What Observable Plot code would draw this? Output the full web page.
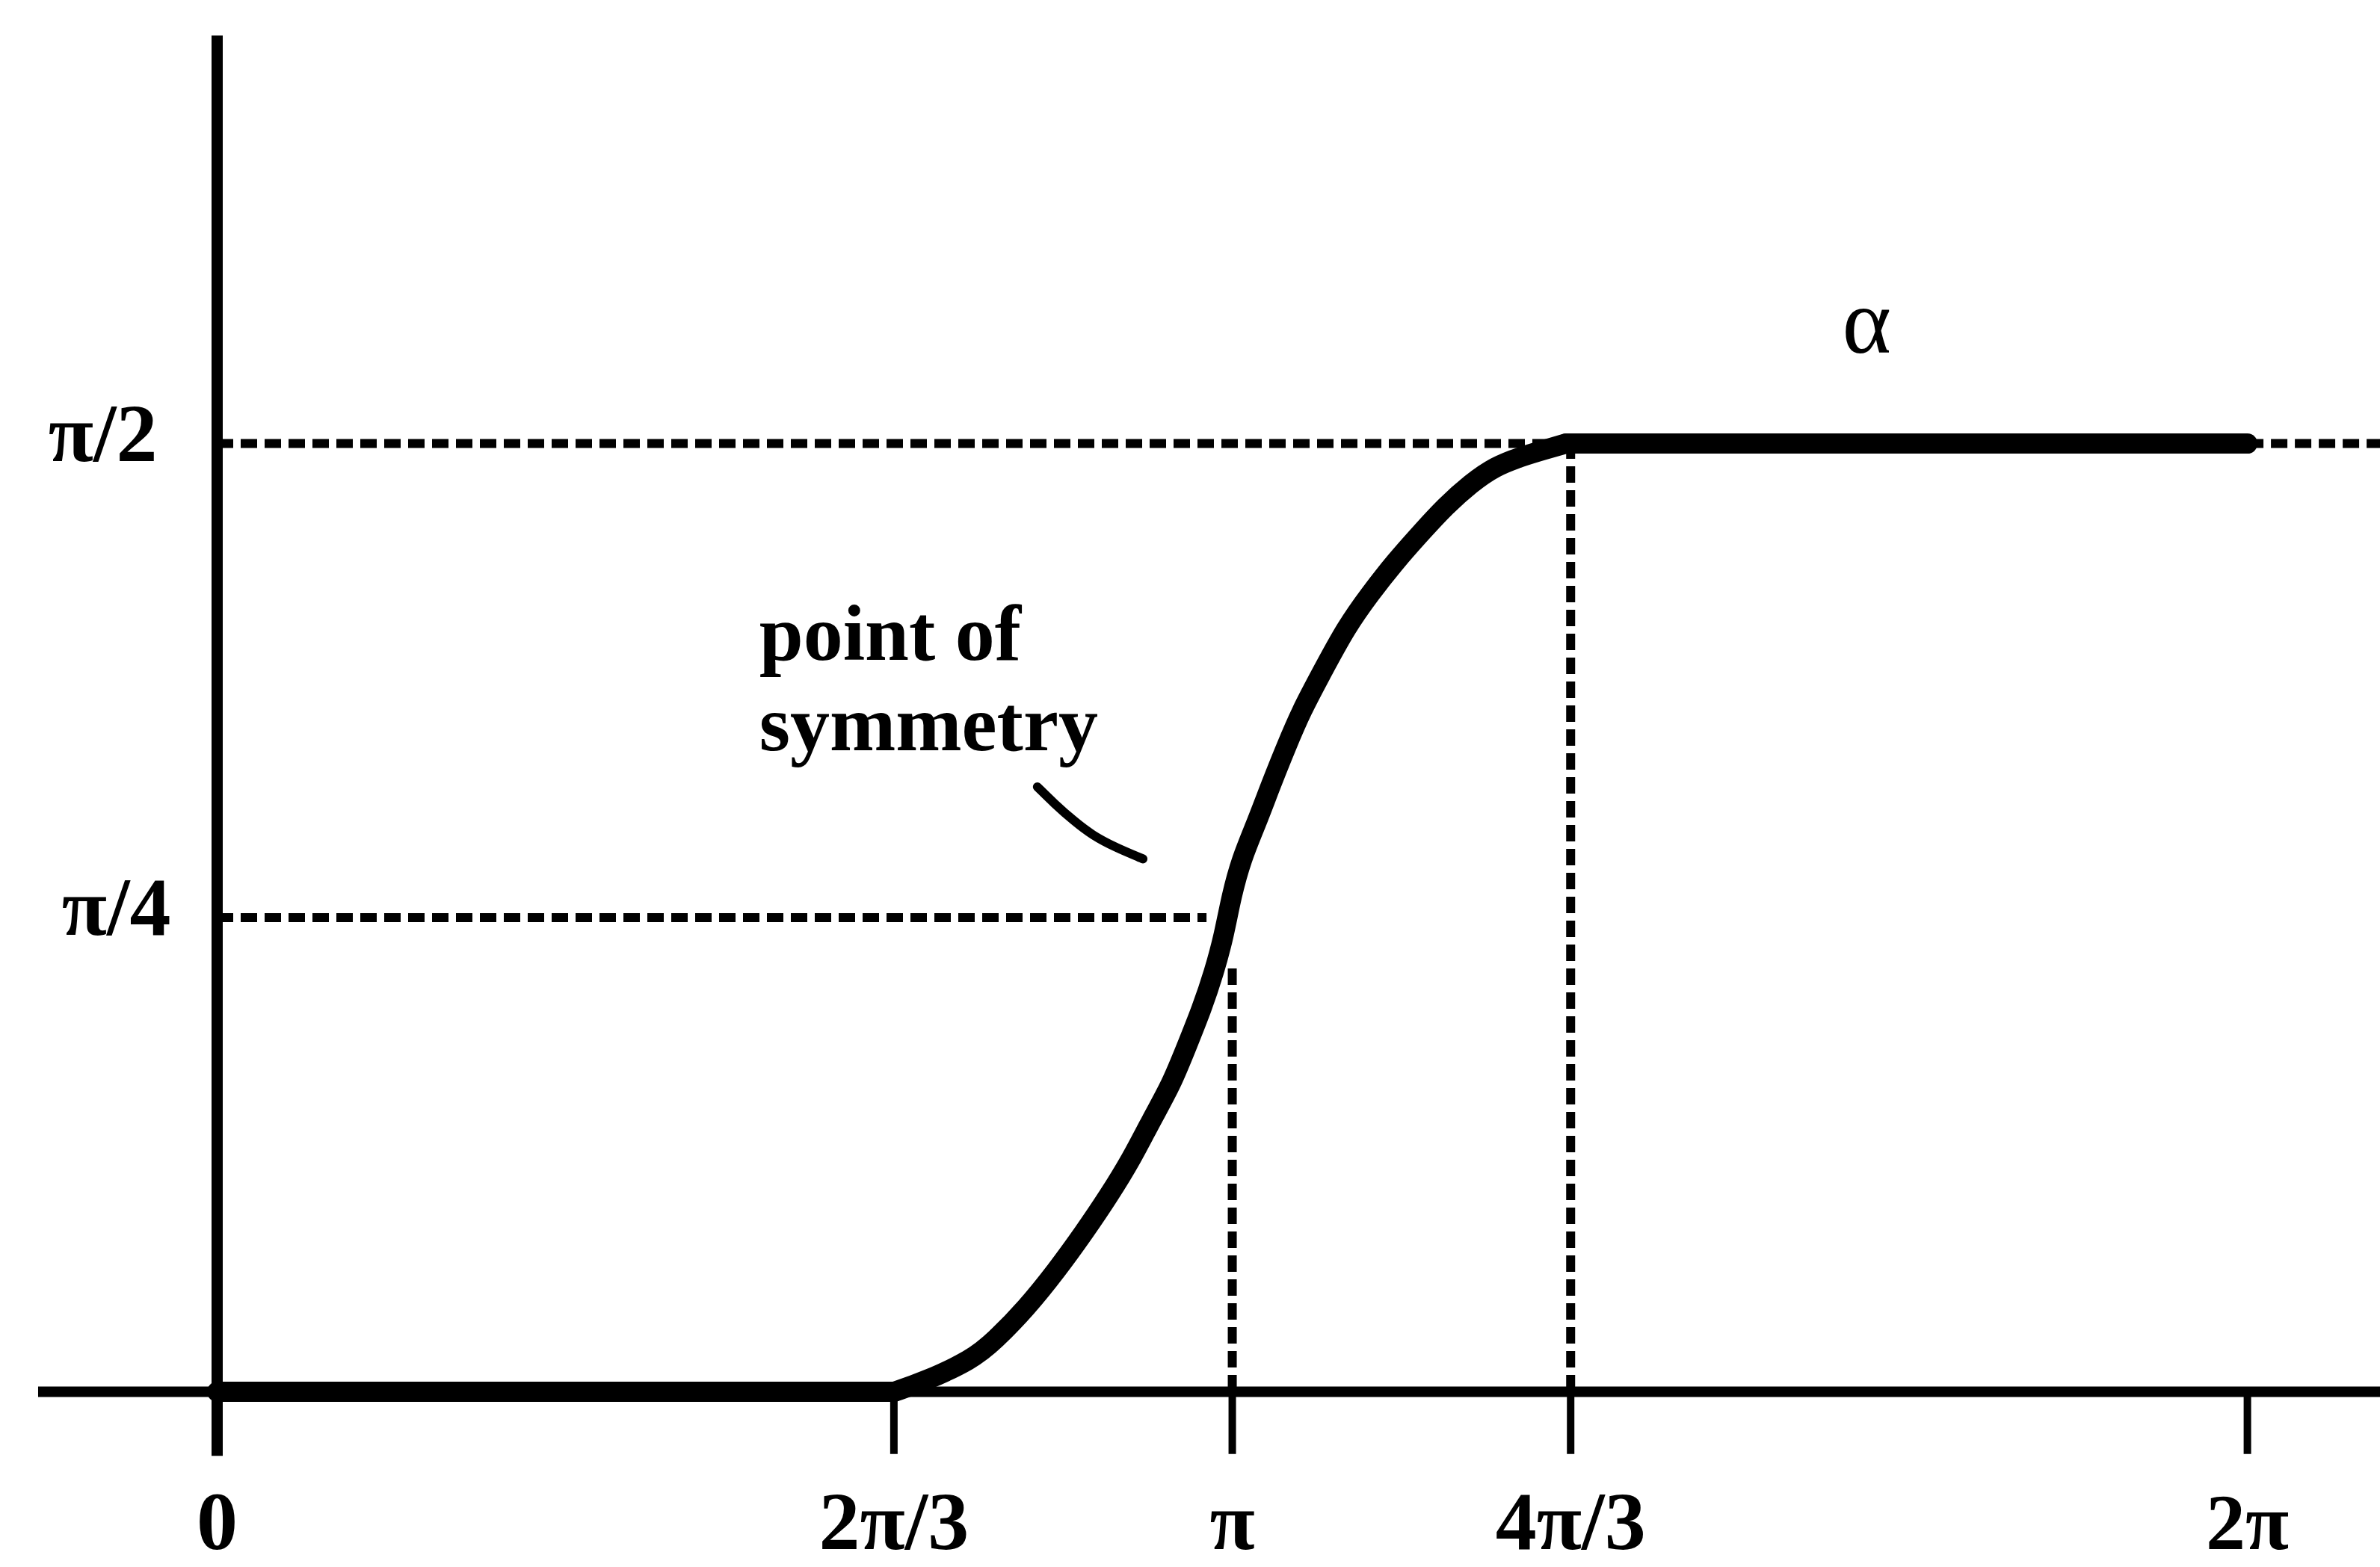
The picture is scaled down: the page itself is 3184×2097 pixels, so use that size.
<!DOCTYPE html>
<html>
<head>
<meta charset="utf-8">
<script src="https://cdn.jsdelivr.net/npm/d3@7"></script>
<script src="https://cdn.jsdelivr.net/npm/@observablehq/plot@0.6"></script>
<style>
html, body { margin: 0; padding: 0; background: #fff; overflow: hidden; }
#chart svg { display: block; }
</style>
</head>
<body>
<div id="chart"></div>
<script>
// All x and y values are in multiples of π
const xTicks = [0, 2/3, 1, 4/3, 2];
const xTickLabels = ["0", "2π/3", "π", "4π/3", "2π"];
const yTicks = [0.25, 0.5];
const yTickLabels = ["π/4", "π/2"];

// the thick curve α(θ)
const curveX = [0, 0.667, 0.695, 0.744, 0.766, 0.797, 0.827, 0.854, 0.878, 0.901, 0.920, 0.940, 0.955, 0.970, 0.982, 0.992, 0.999, 1.009, 1.024, 1.038, 1.053, 1.068, 1.088, 1.112, 1.136, 1.161, 1.186, 1.210, 1.235, 1.259, 1.284, 1.309, 1.329, 2.0];
const curveY = [0, 0, 0.005, 0.017, 0.027, 0.044, 0.064, 0.084, 0.103, 0.123, 0.143, 0.162, 0.182, 0.202, 0.221, 0.241, 0.261, 0.281, 0.300, 0.320, 0.340, 0.359, 0.379, 0.403, 0.421, 0.438, 0.453, 0.467, 0.479, 0.488, 0.493, 0.497, 0.5, 0.5];
const riseStart = 0.667, riseEnd = 1.329;

// dotted guide lines
const guideHy = [0.5, 0.25, 0.5];
const guideHx1 = [0, 0, 2];
const guideHx2 = [4/3, 0.975, 2.131];
const guideVx = [1, 4/3];
const guideVy1 = [0, 0];
const guideVy2 = [0.226, 0.5];

// axis line extents
const xAxisExtent = [-0.176, 2.131];
const yAxisExtent = [-0.034, 0.715];
const tickBottom = -0.033;

// annotation pointer
const pointerX = [0.808, 0.825, 0.844, 0.862, 0.885, 0.912];
const pointerY = [0.319, 0.310, 0.301, 0.2935, 0.287, 0.281];

const notes = [{x: 0.534, y: 0.4196, text: "point of\nsymmetry"}];
const seriesLabel = [{x: 1.625, y: 0.5635, text: "α"}];

const curve = curveX.map((x, i) => ({x, y: curveY[i]}));
const flatLow = curve.filter(d => d.x <= riseStart);
const rise = curve.filter(d => d.x >= riseStart && d.x <= riseEnd);
const flatHigh = curve.filter(d => d.x >= riseEnd);
const guidesH = guideHy.map((y, i) => ({y, x1: guideHx1[i], x2: guideHx2[i]}));
const guidesV = guideVx.map((x, i) => ({x, y1: guideVy1[i], y2: guideVy2[i]}));
const pointer = pointerX.map((x, i) => ({x, y: pointerY[i]}));
const fmtX = d => xTickLabels[xTicks.indexOf(d)];
const fmtY = d => yTickLabels[yTicks.indexOf(d)];

const dash = "22,10";
const curveStyle = {x: "x", y: "y", stroke: "#000", strokeWidth: 27, strokeLinecap: "round", strokeLinejoin: "round"};

const chart = Plot.plot({
  width: 3184,
  height: 2097,
  marginLeft: 290,
  marginRight: 0,
  marginTop: 0,
  marginBottom: 235,
  style: {fontFamily: "'Liberation Serif', 'Times New Roman', serif", background: "#fff", color: "#000"},
  x: {domain: [0, 2.131], axis: null},
  y: {domain: [0, 0.7337], axis: null},
  marks: [
    // dotted guides
    Plot.ruleY(guidesH, {y: "y", x1: "x1", x2: "x2", stroke: "#000", strokeWidth: 12, strokeDasharray: dash}),
    Plot.ruleX(guidesV, {x: "x", y1: "y1", y2: "y2", stroke: "#000", strokeWidth: 12, strokeDasharray: dash}),
    // axis lines
    Plot.ruleY([0], {x1: xAxisExtent[0], x2: xAxisExtent[1], stroke: "#000", strokeWidth: 14}),
    Plot.ruleX([0], {y1: yAxisExtent[0], y2: yAxisExtent[1], stroke: "#000", strokeWidth: 15}),
    // tick marks below the x axis
    Plot.ruleX(xTicks.slice(1), {y1: 0, y2: tickBottom, stroke: "#000", strokeWidth: 10}),
    // tick labels
    Plot.axisX(xTicks.slice(0, 4), {anchor: "bottom", tickSize: 0, tickPadding: 132, tickFormat: fmtX, fontSize: 110, fontWeight: "bold"}),
    Plot.axisX(xTicks.slice(4), {anchor: "bottom", tickSize: 0, tickPadding: 135, tickFormat: fmtX, fontSize: 106, fontWeight: "bold"}),
    Plot.axisY([0.5], {anchor: "left", tickSize: 0, tickPadding: 80, tickFormat: fmtY, fontSize: 110, fontWeight: "bold", dy: -12}),
    Plot.axisY([0.25], {anchor: "left", tickSize: 0, tickPadding: 62, tickFormat: fmtY, fontSize: 110, fontWeight: "bold", dy: -12}),
    // the curve
    Plot.line(flatLow, {...curveStyle, curve: "linear"}),
    Plot.line(rise, {...curveStyle, curve: "basis"}),
    Plot.line(flatHigh, {...curveStyle, curve: "linear"}),
    // pointer and annotation
    Plot.line(pointer, {x: "x", y: "y", curve: "basis", stroke: "#000", strokeWidth: 12, strokeLinecap: "round"}),
    Plot.text(notes, {x: "x", y: "y", text: "text", textAnchor: "start", lineAnchor: "top", lineHeight: 1.14, fontSize: 106, fontWeight: "bold", fill: "#000"}),
    Plot.text(seriesLabel, {x: "x", y: "y", text: "text", fontSize: 125, fill: "#000"})
  ]
});
document.getElementById("chart").appendChild(chart);
</script>
</body>
</html>
